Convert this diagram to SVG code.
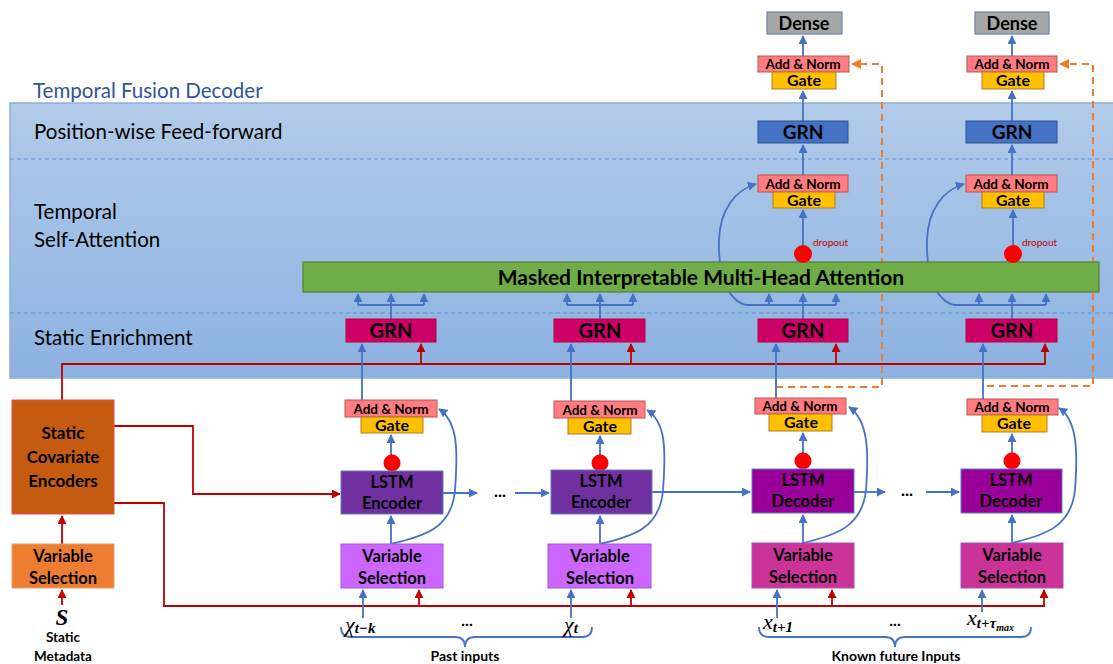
<svg xmlns="http://www.w3.org/2000/svg" width="1113" height="664" viewBox="0 0 1113 664">
<defs>
<linearGradient id="band" x1="0" y1="0" x2="0" y2="1">
<stop offset="0" stop-color="#b2cbe9"/>
<stop offset="1" stop-color="#8cb2e1"/>
</linearGradient>
<marker id="ab" viewBox="0 0 10 10" refX="9" refY="5" markerWidth="9" markerHeight="9" markerUnits="userSpaceOnUse" orient="auto"><path d="M0,0 L10,5 L0,10 z" fill="#4472c4"/></marker>
<marker id="ar" viewBox="0 0 10 10" refX="9" refY="5" markerWidth="9" markerHeight="9" markerUnits="userSpaceOnUse" orient="auto"><path d="M0,0 L10,5 L0,10 z" fill="#c00000"/></marker>
<marker id="ao" viewBox="0 0 10 10" refX="9" refY="5" markerWidth="10" markerHeight="10" markerUnits="userSpaceOnUse" orient="auto"><path d="M0,0 L10,5 L0,10 z" fill="#ed7d31"/></marker>
<style>
text{font-family:Lato,"Liberation Sans",sans-serif;}
.lbl{font-size:20.5px;fill:#000;}
.b{font-weight:bold;fill:#000;text-anchor:middle;}
.blue{fill:none;stroke:#4472c4;stroke-width:1.8;}
.red{fill:none;stroke:#c00000;stroke-width:1.8;}
.org{fill:none;stroke:#ed7d31;stroke-width:2;stroke-dasharray:7 5;}
.an{fill:#ff7c80;stroke:#b85450;stroke-width:1;}
.gate{fill:#ffc000;stroke:#b07a2a;stroke-width:1;}
.grn{fill:#cc0066;stroke:#c00040;stroke-width:1;}
.ffgrn{fill:#4472c4;stroke:#2f528f;stroke-width:1;}
.dense{fill:#a6a6a6;stroke:#6d85b0;stroke-width:1.2;}
.dot{fill:#ff0000;}
.vsp{fill:#cc66ff;stroke:#a05ad0;stroke-width:1;}
.vsf{fill:#cc3399;stroke:#9b59b6;stroke-width:1;}
.enc{fill:#7030a0;stroke:#5b7fc4;stroke-width:1;}
.dec{fill:#990099;stroke:#5b7fc4;stroke-width:1;}
.an-t{font-size:13.5px;}
.gate-t{font-size:16px;}
.box-t{font-size:16.5px;}
.grn-t{font-size:20px;}
.inp{font-family:"Liberation Serif","DejaVu Serif",serif;font-style:italic;font-size:22px;fill:#000;}
.sub{font-family:"Liberation Serif","DejaVu Serif",serif;font-style:italic;font-weight:bold;font-size:15px;fill:#000;}
</style>
</defs>
<rect width="1113" height="664" fill="#ffffff"/>

<g id="decoder-band">
<rect x="10" y="103" width="1110" height="275" fill="url(#band)" stroke="#8fb0dc" stroke-width="1.5"/>
<line x1="10" y1="159" x2="1113" y2="159" stroke="#5b8fd6" stroke-width="1" stroke-dasharray="4 3"/>
<line x1="10" y1="313" x2="1113" y2="313" stroke="#5b8fd6" stroke-width="1" stroke-dasharray="4 3"/>
<text x="33" y="98" style="font-size:20.5px;fill:#2f5597">Temporal Fusion Decoder</text>
<text x="34" y="139" class="lbl">Position-wise Feed-forward</text>
<text x="34" y="219" class="lbl">Temporal</text>
<text x="34" y="247" class="lbl">Self-Attention</text>
<text x="34" y="345" class="lbl">Static Enrichment</text>
</g>

<g id="connectors">
<!-- red static context -->
<path class="red" d="M62 605 V590" marker-end="url(#ar)"/>
<path class="red" d="M62 544 V516" marker-end="url(#ar)"/>
<path class="red" d="M62 400 V364 H1045 V344" marker-end="url(#ar)"/>
<path class="red" d="M421 364 V344" marker-end="url(#ar)"/>
<path class="red" d="M631 364 V344" marker-end="url(#ar)"/>
<path class="red" d="M836 364 V344" marker-end="url(#ar)"/>
<path class="red" d="M114 426 H193 V494 H340" marker-end="url(#ar)"/>
<path class="red" d="M114 503 H164 V606 H1044 V590" marker-end="url(#ar)"/>
<path class="red" d="M419 606 V590" marker-end="url(#ar)"/>
<path class="red" d="M631 606 V590" marker-end="url(#ar)"/>
<path class="red" d="M832 606 V590" marker-end="url(#ar)"/>

<!-- orange dashed skip -->
<path class="org" d="M776 387 H882 V64 H852" marker-end="url(#ao)"/>
<path class="org" d="M987 386 H1093 V64 H1060" marker-end="url(#ao)"/>

<!-- column 1 -->
<path class="blue" d="M363 618 V590" marker-end="url(#ab)"/>
<path class="blue" d="M391 544 V516" marker-end="url(#ab)"/>
<path class="blue" d="M391 544 C 425 536 452 528 455 490 C 458 450 458 422 439 409" marker-end="url(#ab)"/>
<path class="blue" d="M391 455 V435" marker-end="url(#ab)"/>
<path class="blue" d="M362 400 V344" marker-end="url(#ab)"/>
<path class="blue" d="M391 319 V305 M358 305 H424"/>
<path class="blue" d="M358 305 V294" marker-end="url(#ab)"/>
<path class="blue" d="M391 305 V294" marker-end="url(#ab)"/>
<path class="blue" d="M424 305 V294" marker-end="url(#ab)"/>
<path class="blue" d="M443 493 H477" marker-end="url(#ab)"/>
<path class="blue" d="M515 493 H549" marker-end="url(#ab)"/>

<!-- column 2 -->
<path class="blue" d="M571 618 V590" marker-end="url(#ab)"/>
<path class="blue" d="M600 544 V516" marker-end="url(#ab)"/>
<path class="blue" d="M600 544 C 634 536 660 528 663 490 C 666 450 666 422 647 410" marker-end="url(#ab)"/>
<path class="blue" d="M600 455 V436" marker-end="url(#ab)"/>
<path class="blue" d="M571 401 V344" marker-end="url(#ab)"/>
<path class="blue" d="M600 319 V305 M567 305 H633"/>
<path class="blue" d="M567 305 V294" marker-end="url(#ab)"/>
<path class="blue" d="M600 305 V294" marker-end="url(#ab)"/>
<path class="blue" d="M633 305 V294" marker-end="url(#ab)"/>
<path class="blue" d="M652 492 H750" marker-end="url(#ab)"/>

<!-- column 3 -->
<path class="blue" d="M777 618 V590" marker-end="url(#ab)"/>
<path class="blue" d="M803 543 V515" marker-end="url(#ab)"/>
<path class="blue" d="M803 543 C 836 535 862 527 866 490 C 869 450 868 420 849 407" marker-end="url(#ab)"/>
<path class="blue" d="M803 453 V433" marker-end="url(#ab)"/>
<path class="blue" d="M776 398 V344" marker-end="url(#ab)"/>
<path class="blue" d="M803 319 V305 M769 305 H836"/>
<path class="blue" d="M769 305 V294" marker-end="url(#ab)"/>
<path class="blue" d="M803 305 V294" marker-end="url(#ab)"/>
<path class="blue" d="M836 305 V294" marker-end="url(#ab)"/>
<path class="blue" d="M769 305 H746 C 726 300 718 270 719 240 C 720 210 735 190 756 184" marker-end="url(#ab)"/>
<path class="blue" d="M803 245 V210" marker-end="url(#ab)"/>
<path class="blue" d="M803 175 V145" marker-end="url(#ab)"/>
<path class="blue" d="M803 121 V91" marker-end="url(#ab)"/>
<path class="blue" d="M803 56 V36" marker-end="url(#ab)"/>
<path class="blue" d="M854 492 H885" marker-end="url(#ab)"/>
<path class="blue" d="M926 492 H959" marker-end="url(#ab)"/>

<!-- column 4 -->
<path class="blue" d="M982 612 V590" marker-end="url(#ab)"/>
<path class="blue" d="M1012 543 V515" marker-end="url(#ab)"/>
<path class="blue" d="M1012 543 C 1045 535 1071 527 1075 490 C 1078 450 1077 420 1059 408" marker-end="url(#ab)"/>
<path class="blue" d="M1012 453 V434" marker-end="url(#ab)"/>
<path class="blue" d="M983 399 V344" marker-end="url(#ab)"/>
<path class="blue" d="M1012 319 V305 M979 305 H1046"/>
<path class="blue" d="M979 305 V294" marker-end="url(#ab)"/>
<path class="blue" d="M1012 305 V294" marker-end="url(#ab)"/>
<path class="blue" d="M1046 305 V294" marker-end="url(#ab)"/>
<path class="blue" d="M979 305 H954 C 934 300 926 270 927 240 C 928 210 943 190 964 184" marker-end="url(#ab)"/>
<path class="blue" d="M1013 245 V210" marker-end="url(#ab)"/>
<path class="blue" d="M1012 175 V145" marker-end="url(#ab)"/>
<path class="blue" d="M1012 121 V91" marker-end="url(#ab)"/>
<path class="blue" d="M1012 56 V36" marker-end="url(#ab)"/>

<!-- braces -->
<path class="blue" d="M341 627 Q341 637 351 637 H455 Q465 637 465 647 Q465 637 475 637 H582 Q592 637 592 627" stroke-width="1.5"/>
<path class="blue" d="M759 627 Q759 637 769 637 H885 Q895 637 895 647 Q895 637 905 637 H1021 Q1031 637 1031 627" stroke-width="1.5"/>
</g>

<g id="attention">
<rect x="303" y="262" width="796" height="30" fill="#70ad47" stroke="#548235" stroke-width="1.2"/>
<text x="701" y="284.5" class="b" style="font-size:21px">Masked Interpretable Multi-Head Attention</text>
</g>

<g id="grn-enrich-1"><rect x="346" y="319" width="90" height="23" class="grn"/><text x="391" y="338" class="b grn-t">GRN</text></g>
<g id="grn-enrich-2"><rect x="554" y="319" width="91" height="23" class="grn"/><text x="600" y="338" class="b grn-t">GRN</text></g>
<g id="grn-enrich-3"><rect x="758" y="319" width="90" height="23" class="grn"/><text x="803" y="338" class="b grn-t">GRN</text></g>
<g id="grn-enrich-4"><rect x="966" y="319" width="91" height="23" class="grn"/><text x="1012" y="338" class="b grn-t">GRN</text></g>

<g id="attn-gate-3">
<rect x="758" y="175" width="90" height="17" class="an"/><text x="803" y="188.5" class="b an-t">Add &amp; Norm</text>
<rect x="773" y="192" width="62" height="16" class="gate"/><text x="804" y="205.5" class="b gate-t">Gate</text>
</g>
<g id="attn-gate-4">
<rect x="966" y="175" width="91" height="17" class="an"/><text x="1011" y="188.5" class="b an-t">Add &amp; Norm</text>
<rect x="982" y="192" width="62" height="16" class="gate"/><text x="1013" y="205.5" class="b gate-t">Gate</text>
</g>
<g id="dropout-3"><circle cx="803" cy="254" r="9" class="dot"/><text x="813" y="246" style="font-size:10px;fill:#c00000">dropout</text></g>
<g id="dropout-4"><circle cx="1013" cy="254" r="9" class="dot"/><text x="1022" y="246" style="font-size:10px;fill:#c00000">dropout</text></g>

<g id="ff-grn-3"><rect x="758" y="121" width="90" height="22" class="ffgrn"/><text x="803" y="139" class="b" style="font-size:19px">GRN</text></g>
<g id="ff-grn-4"><rect x="966" y="121" width="91" height="22" class="ffgrn"/><text x="1012" y="139" class="b" style="font-size:19px">GRN</text></g>

<g id="out-gate-3">
<rect x="758" y="56" width="91" height="16" class="an"/><text x="803" y="68.5" class="b an-t">Add &amp; Norm</text>
<rect x="772" y="72" width="64" height="17" class="gate"/><text x="804" y="86" class="b gate-t">Gate</text>
</g>
<g id="out-gate-4">
<rect x="967" y="56" width="90" height="16" class="an"/><text x="1012" y="68.5" class="b an-t">Add &amp; Norm</text>
<rect x="982" y="72" width="62" height="17" class="gate"/><text x="1013" y="86" class="b gate-t">Gate</text>
</g>
<g id="dense-3"><rect x="767" y="12" width="75" height="22" class="dense"/><text x="804" y="29.5" class="b" style="font-size:18px">Dense</text></g>
<g id="dense-4"><rect x="975" y="12" width="74" height="22" class="dense"/><text x="1012" y="29.5" class="b" style="font-size:18px">Dense</text></g>

<g id="static-encoders">
<rect x="12" y="400" width="102" height="114" fill="#c55a11" stroke="#e05050" stroke-width="1"/>
<text x="63" y="439" class="b" style="font-size:17px">Static</text>
<text x="63" y="463" class="b" style="font-size:17px">Covariate</text>
<text x="63" y="487" class="b" style="font-size:17px">Encoders</text>
</g>
<g id="static-vs">
<rect x="12" y="544" width="102" height="44" fill="#ed7d31" stroke="#e8a070" stroke-width="1"/>
<text x="63" y="562" class="b box-t">Variable</text>
<text x="63" y="584" class="b box-t">Selection</text>
</g>
<g id="static-metadata">
<text x="62" y="625" style="font-family:'Liberation Serif',serif;font-style:italic;font-weight:bold;font-size:23px;text-anchor:middle">S</text>
<text x="63" y="642" class="b" style="font-size:13.5px">Static</text>
<text x="63" y="661" class="b" style="font-size:13.5px">Metadata</text>
</g>

<g id="enc-gate-1">
<rect x="345" y="400" width="92" height="17" class="an"/><text x="391" y="413.5" class="b an-t">Add &amp; Norm</text>
<rect x="361" y="417" width="62" height="16" class="gate"/><text x="392" y="430.5" class="b gate-t">Gate</text>
</g>
<g id="enc-gate-2">
<rect x="554" y="401" width="91" height="17" class="an"/><text x="600" y="414.5" class="b an-t">Add &amp; Norm</text>
<rect x="568" y="418" width="63" height="16" class="gate"/><text x="600" y="431.5" class="b gate-t">Gate</text>
</g>
<g id="dec-gate-1">
<rect x="755" y="398" width="91" height="16" class="an"/><text x="800" y="410.5" class="b an-t">Add &amp; Norm</text>
<rect x="769" y="414" width="63" height="17" class="gate"/><text x="801" y="428" class="b gate-t">Gate</text>
</g>
<g id="dec-gate-2">
<rect x="967" y="399" width="91" height="16" class="an"/><text x="1012" y="411.5" class="b an-t">Add &amp; Norm</text>
<rect x="982" y="415" width="65" height="17" class="gate"/><text x="1014" y="429" class="b gate-t">Gate</text>
</g>

<g id="enc-dot-1"><circle cx="392" cy="463" r="8.5" class="dot"/></g>
<g id="enc-dot-2"><circle cx="600" cy="463" r="8.5" class="dot"/></g>
<g id="dec-dot-1"><circle cx="803" cy="461" r="8.5" class="dot"/></g>
<g id="dec-dot-2"><circle cx="1012" cy="461" r="8.5" class="dot"/></g>

<g id="lstm-enc-1"><rect x="341" y="471" width="102" height="43" class="enc"/><text x="392" y="488" class="b box-t">LSTM</text><text x="392" y="509" class="b box-t">Encoder</text></g>
<g id="lstm-enc-2"><rect x="551" y="470" width="101" height="44" class="enc"/><text x="601" y="487" class="b box-t">LSTM</text><text x="601" y="508" class="b box-t">Encoder</text></g>
<g id="lstm-dec-1"><rect x="752" y="469" width="102" height="44" class="dec"/><text x="803" y="486" class="b box-t">LSTM</text><text x="803" y="507" class="b box-t">Decoder</text></g>
<g id="lstm-dec-2"><rect x="961" y="469" width="101" height="44" class="dec"/><text x="1011" y="486" class="b box-t">LSTM</text><text x="1011" y="507" class="b box-t">Decoder</text></g>
<text x="500" y="497" class="b" style="font-size:17px">...</text>
<text x="907" y="496" class="b" style="font-size:17px">...</text>

<g id="vs-past-1"><rect x="341" y="544" width="102" height="44" class="vsp"/><text x="392" y="562" class="b box-t">Variable</text><text x="392" y="584" class="b box-t">Selection</text></g>
<g id="vs-past-2"><rect x="548" y="544" width="103" height="44" class="vsp"/><text x="600" y="562" class="b box-t">Variable</text><text x="600" y="584" class="b box-t">Selection</text></g>
<g id="vs-fut-1"><rect x="752" y="543" width="102" height="45" class="vsf"/><text x="803" y="561" class="b box-t">Variable</text><text x="803" y="583" class="b box-t">Selection</text></g>
<g id="vs-fut-2"><rect x="961" y="543" width="102" height="45" class="vsf"/><text x="1012" y="561" class="b box-t">Variable</text><text x="1012" y="583" class="b box-t">Selection</text></g>

<g id="inputs">
<text x="345" y="632" class="inp">χ<tspan class="sub" dy="1">t−k</tspan></text>
<text x="467" y="626" class="b" style="font-size:16px">...</text>
<text x="564" y="632" class="inp">χ<tspan class="sub" dy="1">t</tspan></text>
<text x="763" y="629" class="inp">x<tspan class="sub" dy="3">t+1</tspan></text>
<text x="895" y="626" class="b" style="font-size:16px">...</text>
<text x="967" y="625" class="inp">x<tspan class="sub" dy="3">t+τ</tspan><tspan class="sub" style="font-size:10px" dy="3">max</tspan></text>
<text x="465" y="661" class="b" style="font-size:14px">Past inputs</text>
<text x="896" y="661" class="b" style="font-size:14px">Known future Inputs</text>
</g>
</svg>
